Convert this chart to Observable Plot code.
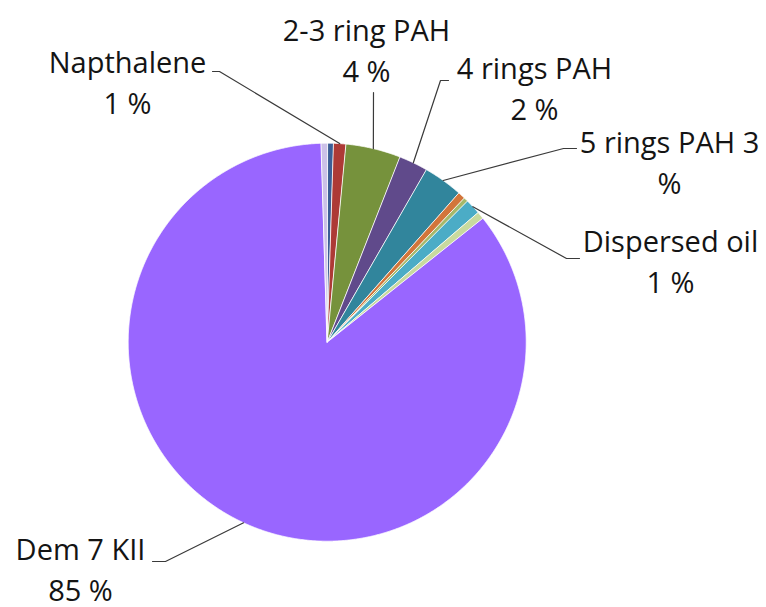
<!DOCTYPE html>
<html>
<head>
<meta charset="utf-8">
<script src="https://cdn.jsdelivr.net/npm/d3@7"></script>
<script src="https://cdn.jsdelivr.net/npm/@observablehq/plot@0.6"></script>
<style>
  body { margin: 0; background: #fff; }
  #chart { width: 766px; height: 607px; }
</style>
</head>
<body>
<div id="chart"></div>
<script>
// Composition shares (%), in the order the slices run clockwise from 12 o'clock
const categories = [
  "Component A", "Napthalene", "2-3 ring PAH", "4 rings PAH", "5 rings PAH",
  "Component B", "Component C", "Dispersed oil", "Component D", "Dem 7 KII", "Component E"
];
const shares = [0.5, 1.0, 4.45, 2.35, 3.2, 0.6, 0.35, 1.25, 0.6, 85.2, 0.5];
const sliceColors = [
  "#3B5E96", "#AD3A36", "#76923C", "#604A8B", "#31859C",
  "#D2753A", "#A5B86A", "#4BACC6", "#C8DA9E", "#9966FF", "#CCC1E8"
];
// Which slices carry a data label
const labelled = ["Napthalene", "2-3 ring PAH", "4 rings PAH", "5 rings PAH", "Dispersed oil", "Dem 7 KII"];

// Layout (pixels): pie centre/radius, label anchors and leader-line elbows
const pieBox = {cx: 326.7, cy: 341.7, r: 199};
const W = 766, H = 607;
const labelLayout = {
  "Napthalene":    {x: 127, y: 113, leader: [[212, 71], [219, 71]]},
  "2-3 ring PAH":  {x: 366, y: 81,  leader: [[373, 92]]},
  "4 rings PAH":   {x: 534, y: 119, leader: [[448, 80], [440, 80]]},
  "5 rings PAH":   {x: 669, y: 193, leader: [[576, 148], [563, 148]], wrapPercent: true},
  "Dispersed oil": {x: 670, y: 292, leader: [[579, 258], [566, 258]]},
  "Dem 7 KII":     {x: 80,  y: 600, leader: [[152, 561], [165, 561]]}
};

// pixel -> pie units (centre at 0, radius 1, y up)
const ux = px => (px - pieBox.cx) / pieBox.r;
const uy = py => (pieBox.cy - py) / pieBox.r;

const data = categories.map((name, i) => ({name, share: shares[i]}));
const arcs = d3.pie().sort(null).value(d => d.share).startAngle(0).endAngle(2 * Math.PI)(data);

// Wedge outlines: centre, arc, back to centre
const wedgePoints = [];
const step = Math.PI / 720;
arcs.forEach(a => {
  const key = a.data.name;
  wedgePoints.push({key, x: 0, y: 0});
  const n = Math.max(2, Math.ceil((a.endAngle - a.startAngle) / step));
  for (let k = 0; k <= n; k++) {
    const t = a.startAngle + (a.endAngle - a.startAngle) * k / n;
    wedgePoints.push({key, x: Math.sin(t), y: Math.cos(t)});
  }
});

// Leader lines and label texts
const leaderPoints = [];
const labelRows = [];
arcs.forEach(a => {
  const name = a.data.name;
  if (!labelled.includes(name)) return;
  const L = labelLayout[name];
  const pct = Math.round(a.data.share);
  L.leader.forEach(([px, py]) => leaderPoints.push({key: name, x: ux(px), y: uy(py)}));
  const mid = (a.startAngle + a.endAngle) / 2;
  leaderPoints.push({key: name, x: Math.sin(mid), y: Math.cos(mid)});
  const text = L.wrapPercent ? `${name} ${pct}\n%` : `${name}\n${pct} %`;
  labelRows.push({x: ux(L.x), y: uy(L.y), text});
});

const chart = Plot.plot({
  width: W,
  height: H,
  margin: 0,
  style: {background: "#fff", fontFamily: "'Open Sans', sans-serif"},
  x: {domain: [ux(0), ux(W)], axis: null},
  y: {domain: [uy(H), uy(0)], axis: null},
  color: {domain: categories, range: sliceColors},
  marks: [
    Plot.line(wedgePoints, {
      x: "x", y: "y", z: "key", fill: "key",
      stroke: "white", strokeWidth: 0.8, curve: "linear-closed"
    }),
    Plot.line(leaderPoints, {
      x: "x", y: "y", z: "key", stroke: "#3a3a3a", strokeWidth: 1.2
    }),
    Plot.text(labelRows, {
      x: "x", y: "y", text: "text",
      textAnchor: "middle", lineAnchor: "bottom", lineHeight: 1.414,
      fontSize: 29, fill: "#141414"
    })
  ]
});

document.getElementById("chart").appendChild(chart);
</script>
</body>
</html>
